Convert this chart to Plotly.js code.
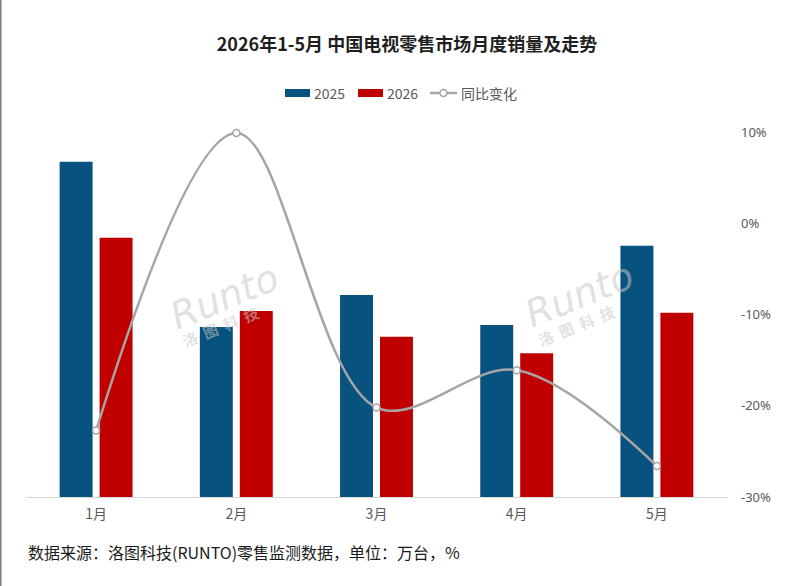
<!DOCTYPE html>
<html>
<head>
<meta charset="utf-8">
<script src="https://cdn.plot.ly/plotly-3.0.1.min.js"></script>
<style>
html,body{margin:0;padding:0;background:#fff;}
#chart{width:809px;height:586px;}
</style>
</head>
<body>
<div id="chart"></div>
<script>
// ---- data ----
const months = ["1月", "2月", "3月", "4月", "5月"];
const sales2025 = [367.5, 186.3, 221.4, 188.5, 275.4];   // 万台 (estimated)
const sales2026 = [284.2, 203.8, 175.7, 157.5, 202.0];   // 万台 (estimated)
const yoyChange = [-22.7, 9.9, -20.2, -16.1, -26.6];     // %
const seriesNames = ["2025", "2026", "同比变化"];
const rightTickVals = [-30, -20, -10, 0, 10];
const rightTickText = ["-30%", "-20%", "-10%", "0%", "10%"];
const titleText = "2026年1-5月 中国电视零售市场月度销量及走势";
const sourceText = "数据来源：洛图科技(RUNTO)零售监测数据，单位：万台，%";

// ---- style ----
const FONT = "'Noto Sans CJK SC', 'Noto Sans', sans-serif";
const BLUE = "#07527F";
const RED = "#C00000";
const GREY = "#A5A5A5";
const W = 809, H = 586;
const M = {l: 26, r: 82, t: 123, b: 89};
const PW = W - M.l - M.r, PH = H - M.t - M.b;
const px = x => (x - M.l) / PW;
const py = y => (H - M.b - y) / PH;
const WM = "rgba(200,200,200,0.55)";

const traces = [
  {type: "bar", name: seriesNames[0], x: months, y: sales2025, marker: {color: BLUE}, yaxis: "y", showlegend: false, hoverinfo: "skip"},
  {type: "bar", name: seriesNames[1], x: months, y: sales2026, marker: {color: RED}, yaxis: "y", showlegend: false, hoverinfo: "skip"},
  {type: "scatter", mode: "lines+markers", name: seriesNames[2], x: months, y: yoyChange, yaxis: "y2",
   line: {color: GREY, width: 2.5, shape: "spline", smoothing: 1},
   marker: {symbol: "circle", size: 7, color: "#ffffff", line: {color: GREY, width: 1.5}},
   cliponaxis: false, showlegend: false, hoverinfo: "skip"}
];

const annotations = [
  {xref: "paper", yref: "paper", x: px(312), y: py(92.5), xanchor: "left", yanchor: "middle", text: seriesNames[0], showarrow: false, font: {family: FONT, size: 14, color: "#595959"}},
  {xref: "paper", yref: "paper", x: px(385), y: py(92.5), xanchor: "left", yanchor: "middle", text: seriesNames[1], showarrow: false, font: {family: FONT, size: 14, color: "#595959"}},
  {xref: "paper", yref: "paper", x: px(459), y: py(92.5), xanchor: "left", yanchor: "middle", text: seriesNames[2], showarrow: false, font: {family: FONT, size: 14, color: "#595959"}},
  {xref: "paper", yref: "paper", x: px(26), y: py(551.5), xanchor: "left", yanchor: "middle", text: sourceText, showarrow: false, font: {family: FONT, size: 16, color: "#1a1a1a"}},
  // watermarks
  {xref: "paper", yref: "paper", x: px(224), y: py(297), xanchor: "center", yanchor: "middle", text: "<i>Runto</i>", textangle: -22, showarrow: false, font: {family: "'DejaVu Sans', sans-serif", size: 38, color: WM}},
  {xref: "paper", yref: "paper", x: px(220), y: py(326), xanchor: "center", yanchor: "middle", text: "<b>洛  图  科  技</b>", textangle: -22, showarrow: false, font: {family: FONT, size: 15, color: WM}},
  {xref: "paper", yref: "paper", x: px(579), y: py(295), xanchor: "center", yanchor: "middle", text: "<i>Runto</i>", textangle: -22, showarrow: false, font: {family: "'DejaVu Sans', sans-serif", size: 38, color: WM}},
  {xref: "paper", yref: "paper", x: px(576), y: py(325), xanchor: "center", yanchor: "middle", text: "<b>洛  图  科  技</b>", textangle: -22, showarrow: false, font: {family: FONT, size: 15, color: WM}}
];

const shapes = [
  // legend swatches
  {type: "rect", xref: "paper", yref: "paper", x0: px(285), x1: px(310), y0: py(97), y1: py(89), fillcolor: BLUE, line: {width: 0}},
  {type: "rect", xref: "paper", yref: "paper", x0: px(358), x1: px(383), y0: py(97), y1: py(89), fillcolor: RED, line: {width: 0}},
  {type: "line", xref: "paper", yref: "paper", x0: px(430), x1: px(457), y0: py(93), y1: py(93), line: {color: GREY, width: 2.5}},
  {type: "circle", xref: "paper", yref: "paper", x0: px(440), x1: px(447), y0: py(96.5), y1: py(89.5), fillcolor: "#ffffff", line: {color: GREY, width: 1.5}},
  // left edge border
  {type: "line", xref: "paper", yref: "paper", x0: px(0.75), x1: px(0.75), y0: py(H), y1: py(0), line: {color: "#7f7f7f", width: 1.5}}
];

const layout = {
  width: W, height: H,
  margin: M,
  paper_bgcolor: "#ffffff", plot_bgcolor: "#ffffff",
  font: {family: FONT, color: "#595959"},
  title: {text: "<b>" + titleText + "</b>", x: 0.503, xref: "container", xanchor: "center", y: 1 - 45 / H, yref: "container", yanchor: "middle",
          font: {family: FONT, size: 18, color: "#1f1f1f"}},
  showlegend: false,
  barmode: "group", bargap: 0.43, bargroupgap: 0.175,
  xaxis: {type: "category", showgrid: false, zeroline: false, showline: true, linecolor: "#d9d9d9", linewidth: 1,
          ticks: "", tickfont: {family: FONT, size: 14, color: "#595959"}, ticklabelstandoff: 4},
  yaxis: {visible: false, range: [0, 410], showgrid: false, zeroline: false},
  yaxis2: {overlaying: "y", side: "right", range: [-30, 11], tickvals: rightTickVals, ticktext: rightTickText,
           showgrid: false, zeroline: false, showline: false, ticks: "", ticklabelstandoff: 13,
           tickfont: {family: "'Noto Sans', sans-serif", size: 13, color: "#595959"}},
  annotations: annotations,
  shapes: shapes
};

Plotly.newPlot("chart", traces, layout, {staticPlot: true, displayModeBar: false});
</script>
</body>
</html>
